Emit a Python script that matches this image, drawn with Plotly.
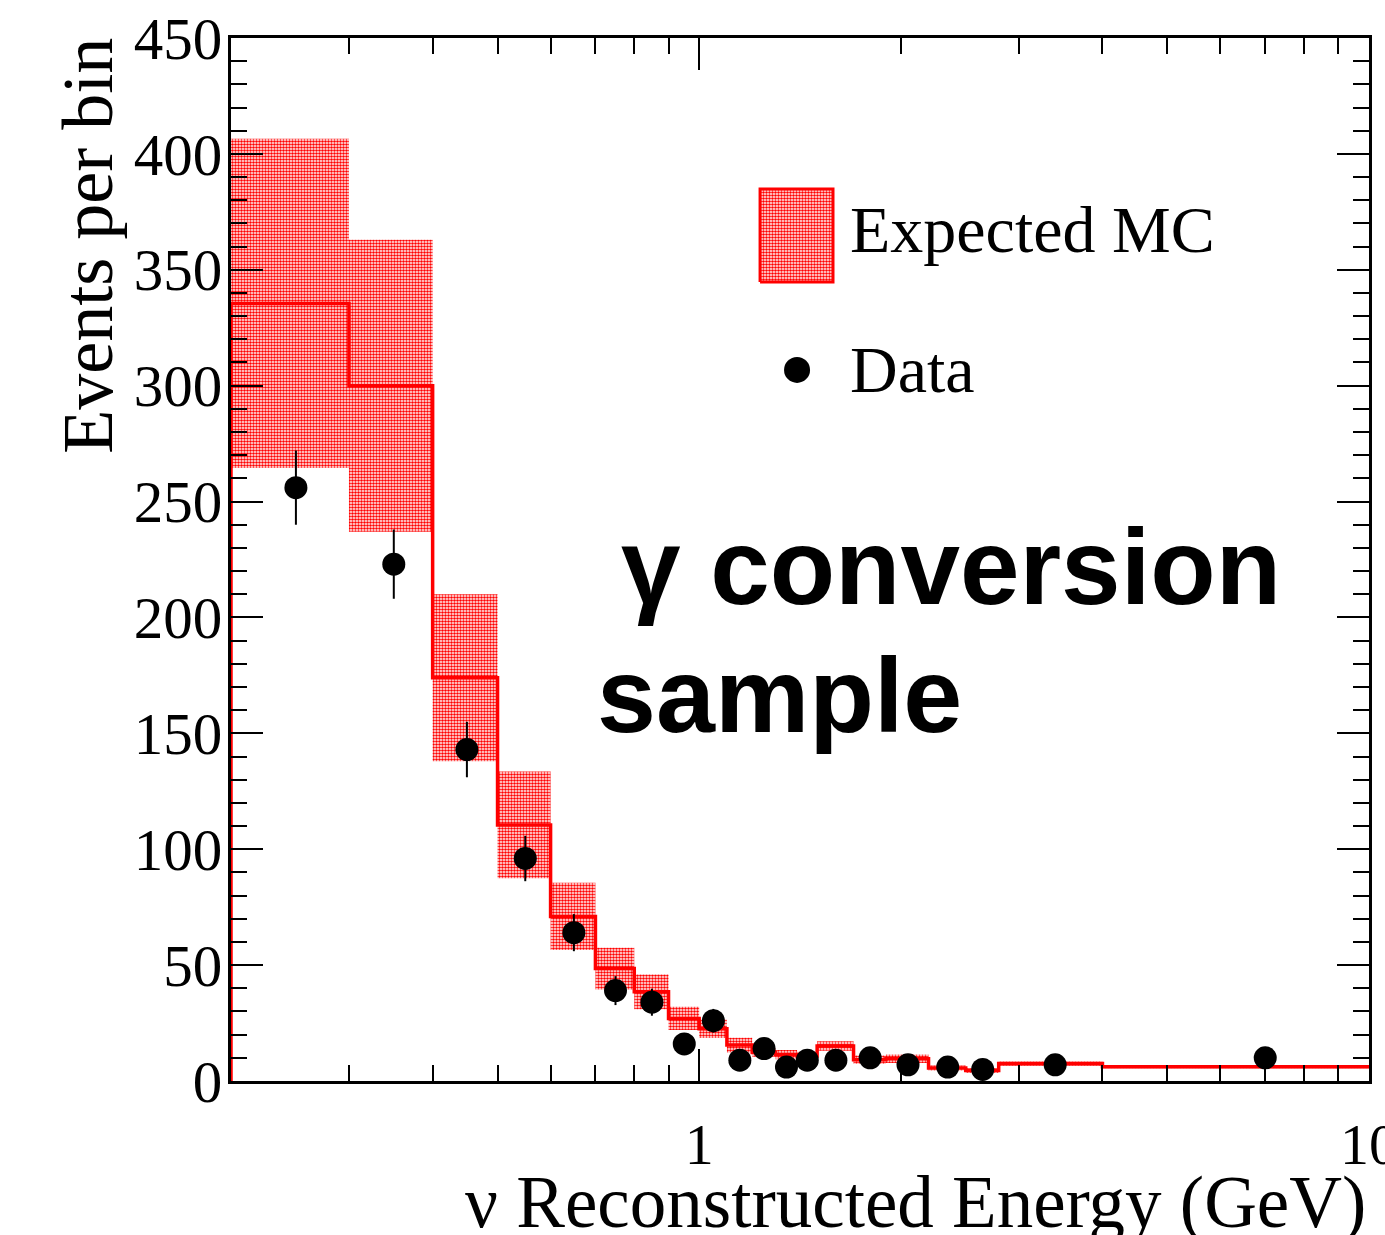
import numpy as np
import plotly.graph_objects as go

# ---------------- data ----------------
bin_edges = [0.2, 0.3, 0.4, 0.5, 0.6, 0.7, 0.8, 0.9, 1.0, 1.1, 1.2, 1.3, 1.4, 1.5,
             1.7, 1.9, 2.2, 2.5, 2.8, 4.0, 10.0]
mc_expected = [335.5, 300.0, 174.0, 110.5, 71.0, 48.5, 38.5, 27.0, 22.5, 15.5,
               12.3, 11.4, 10.8, 15.1, 9.2, 9.6, 5.6, 4.5, 7.5, 6.2]
mc_error = [71.0, 63.0, 36.0, 23.0, 14.5, 9.0, 7.5, 5.0, 4.0, 3.2,
            1.8, 2.0, 1.8, 2.0, 1.8, 1.8, 1.1, 1.0, 0.9, 0.7]
data_energy = [0.25, 0.35, 0.45, 0.55, 0.65, 0.75, 0.85, 0.95, 1.05, 1.15,
               1.25, 1.35, 1.45, 1.6, 1.8, 2.05, 2.35, 2.65, 3.4, 7.0]
data_counts = [256, 223, 143, 96, 64, 39, 34, 16, 26, 9,
               14, 6, 9, 9, 10, 7, 6, 5, 7, 10]

x_tick_vals = [1, 10]
x_tick_text = ["1", "10"]
x_minor_vals = [0.2, 0.3, 0.4, 0.5, 0.6, 0.7, 0.8, 0.9, 2, 3, 4, 5, 6, 7, 8, 9]

# ---------------- derived ----------------
edges = np.array(bin_edges)
mc = np.array(mc_expected)
err = np.array(mc_error)
lo_e, hi_e = edges[:-1], edges[1:]
up = mc + err
dn = mc - err

# band polygon: upper step path left->right, lower step path right->left
upper_x = np.column_stack([lo_e, hi_e]).ravel()
upper_y = np.repeat(up, 2)
lower_x = upper_x[::-1]
lower_y = np.repeat(dn, 2)[::-1]
band_x = np.concatenate([upper_x, lower_x, upper_x[:1]])
band_y = np.concatenate([upper_y, lower_y, upper_y[:1]])

line_x = np.concatenate([[edges[0]], edges])
line_y = np.concatenate([[0.0], mc, [mc[-1]]])

RED = "#ff0000"
pattern = dict(shape=".", fgcolor=RED, bgcolor="rgba(255,255,255,0)",
               size=3, solidity=0.55, fillmode="replace")

fig = go.Figure()

fig.add_trace(go.Scatter(
    x=band_x, y=band_y, mode="lines", fill="toself",
    fillcolor="rgba(255,255,255,0)", fillpattern=pattern,
    line=dict(width=0, color="rgba(0,0,0,0)"), hoverinfo="skip",
    showlegend=False))

fig.add_trace(go.Scatter(
    x=line_x, y=line_y, mode="lines", line=dict(color=RED, width=3.5, shape="hv"),
    showlegend=False))

fig.add_trace(go.Scatter(
    x=data_energy, y=data_counts, mode="markers",
    marker=dict(color="black", size=23),
    error_y=dict(type="data", array=np.sqrt(data_counts), color="black",
                 thickness=2, width=0),
    showlegend=False))

# legend keys on an overlay (paper-like) axis
fig.add_trace(go.Scatter(
    x=[0.4649, 0.5290, 0.5290, 0.4649, 0.4649],
    y=[0.7661, 0.7661, 0.8552, 0.8552, 0.7661],
    xaxis="x2", yaxis="y2", mode="lines", fill="toself",
    fillcolor="rgba(255,255,255,0)", fillpattern=pattern,
    line=dict(color=RED, width=3), showlegend=False, hoverinfo="skip"))
fig.add_trace(go.Scatter(
    x=[0.4974], y=[0.6818], xaxis="x2", yaxis="y2", mode="markers",
    marker=dict(color="black", size=26), showlegend=False, hoverinfo="skip"))

serif = "Liberation Serif"
sans = "Liberation Sans"

fig.update_layout(
    width=1385, height=1235,
    margin=dict(l=231, r=16, t=38, b=154),
    paper_bgcolor="white", plot_bgcolor="white",
    showlegend=False,
    xaxis=dict(
        type="log", range=[np.log10(0.2), 1.0],
        tickvals=x_tick_vals, ticktext=x_tick_text,
        ticks="inside", ticklen=32, tickwidth=2, tickcolor="black",
        showline=True, linewidth=3, linecolor="black", mirror="allticks",
        showgrid=False, zeroline=False, automargin=False,
        ticklabeloverflow="allow", ticklabelstandoff=10,
        tickfont=dict(family=serif, size=58, color="black"),
        minor=dict(tickvals=x_minor_vals, ticks="inside", ticklen=16,
                   tickwidth=2, tickcolor="black", showgrid=False),
    ),
    yaxis=dict(
        range=[0, 450], tick0=0, dtick=50,
        ticks="inside", ticklen=32, tickwidth=2, tickcolor="black",
        showline=True, linewidth=3, linecolor="black", mirror="allticks",
        showgrid=False, zeroline=False, automargin=False,
        ticklabeloverflow="allow", ticklabelstandoff=-6,
        tickfont=dict(family=serif, size=59, color="black"),
        minor=dict(dtick=10, ticks="inside", ticklen=16, tickwidth=2,
                   tickcolor="black", showgrid=False),
    ),
    xaxis2=dict(domain=[0, 1], range=[0, 1], visible=False, anchor="y2",
                overlaying="x", fixedrange=True),
    yaxis2=dict(domain=[0, 1], range=[0, 1], visible=False, anchor="x2",
                overlaying="y", fixedrange=True),
)

annotations = [
    dict(text="ν Reconstructed Energy (GeV)", x=(1368 - 231) / 1138, y=-0.1167,
         xanchor="right", yanchor="middle",
         font=dict(family=serif, size=73, color="black")),
    dict(text="Events per bin", x=-0.1259, y=0.8006, textangle=-90,
         xanchor="center", yanchor="middle",
         font=dict(family=serif, size=72, color="black")),
    dict(text="Expected MC", x=0.5422, y=0.8165, xanchor="left", yanchor="middle",
         font=dict(family=serif, size=66, color="black")),
    dict(text="Data", x=0.5422, y=0.6823, xanchor="left", yanchor="middle",
         font=dict(family=serif, size=66, color="black")),
    dict(text="<b>γ conversion</b>", x=(619 - 231) / 1138, y=0.4932,
         xanchor="left", yanchor="middle",
         font=dict(family=sans, size=107, color="black")),
    dict(text="<b>sample</b>", x=(595 - 231) / 1138, y=0.3705,
         xanchor="left", yanchor="middle",
         font=dict(family=sans, size=106, color="black")),
]
for a in annotations:
    a.update(xref="paper", yref="paper", showarrow=False)
fig.update_layout(annotations=annotations)

fig.write_html("out.html")
